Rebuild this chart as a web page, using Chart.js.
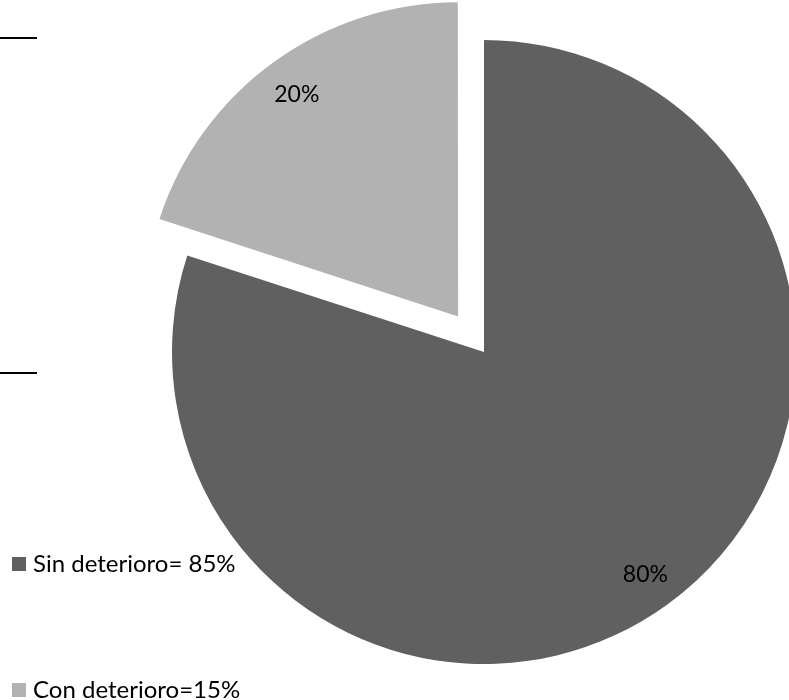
<!DOCTYPE html>
<html>
<head>
<meta charset="utf-8">
<script src="https://cdn.jsdelivr.net/npm/chart.js@4"></script>
<style>
  html, body { margin: 0; padding: 0; background: #ffffff; }
  #wrap { position: relative; width: 789px; height: 700px; overflow: hidden; }
  .rule { position: absolute; left: 0; width: 37px; height: 2px; background: #000; }
</style>
</head>
<body>
<div id="wrap">
  <canvas id="c" width="789" height="700"></canvas>
  <div class="rule" style="top:37px"></div>
  <div class="rule" style="top:372px"></div>
</div>
<script>
const categories = ["Sin deterioro= 85%", "Con deterioro=15%"];
const values = [80, 20];
const valueLabels = ["80%", "20%"];
const colors = ["#606060", "#b2b2b2"];

const FONT = "Lato, 'Open Sans', sans-serif";

const labelPlugin = {
  id: 'sliceLabels',
  afterDatasetsDraw(chart) {
    const ctx = chart.ctx;
    const meta = chart.getDatasetMeta(0);
    ctx.save();
    ctx.fillStyle = '#000';
    ctx.font = '23px ' + FONT;
    ctx.textAlign = 'center';
    ctx.textBaseline = 'middle';
    meta.data.forEach((arc, i) => {
      const off = (arc.options.offset || 0) / 4;
      const mid = (arc.startAngle + arc.endAngle) / 2;
      const r = arc.outerRadius * 0.88;
      const x = arc.x + Math.cos(mid) * (off + r);
      const y = arc.y + Math.sin(mid) * (off + r);
      ctx.fillText(valueLabels[i], x, y);
    });
    ctx.restore();
  }
};

const legendPlugin = {
  id: 'sideLegend',
  afterDraw(chart) {
    const ctx = chart.ctx;
    const rows = [564, 690];
    ctx.save();
    ctx.font = '24px ' + FONT;
    ctx.textAlign = 'left';
    ctx.textBaseline = 'middle';
    chart.data.labels.forEach((lab, i) => {
      const y = rows[i];
      ctx.fillStyle = chart.data.datasets[0].backgroundColor[i];
      ctx.fillRect(12, y - 7, 14, 14);
      ctx.fillStyle = '#000';
      ctx.fillText(lab, 33, y);
    });
    ctx.restore();
  }
};

new Chart(document.getElementById('c'), {
  type: 'pie',
  data: {
    labels: categories,
    datasets: [{
      data: values,
      backgroundColor: colors,
      borderWidth: 0,
      offset: [0, 176],
      radius: 312,
      clip: false
    }]
  },
  options: {
    responsive: false,
    animation: false,
    events: [],
    layout: { padding: { left: 179, top: 4, right: 0, bottom: 0 } },
    plugins: {
      legend: { display: false },
      tooltip: { enabled: false }
    }
  },
  plugins: [labelPlugin, legendPlugin]
});
</script>
</body>
</html>
